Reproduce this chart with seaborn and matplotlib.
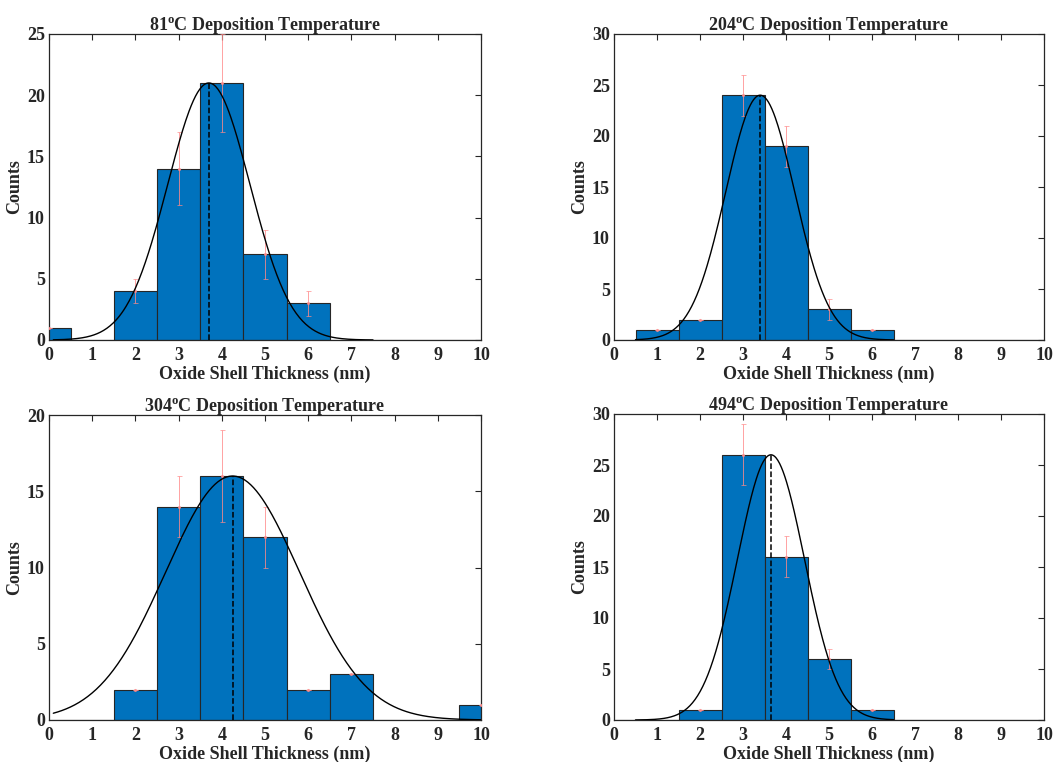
import numpy as np
import pandas as pd
import matplotlib
matplotlib.use("Agg")
import matplotlib.pyplot as plt
import seaborn as sns

sns.set_theme(style="white")
plt.rcParams['font.family'] = ['Liberation Serif', 'DejaVu Serif']
plt.rcParams['font.weight'] = 'bold'
plt.rcParams['mathtext.fontset'] = 'custom'
plt.rcParams['mathtext.rm'] = 'Liberation Serif:bold'
plt.rcParams['mathtext.it'] = 'Liberation Serif:bold'
plt.rcParams['mathtext.bf'] = 'Liberation Serif:bold'

# ---- data ----
temperatures = ["81", "204", "304", "494"]
bin_centers = [0, 1, 2, 3, 4, 5, 6, 7, 8, 9, 10]
counts_81 = [1, 0, 4, 14, 21, 7, 3, 0, 0, 0, 0]
counts_204 = [0, 1, 2, 24, 19, 3, 1, 0, 0, 0, 0]
counts_304 = [0, 0, 2, 14, 16, 12, 2, 3, 0, 0, 1]
counts_494 = [0, 0, 1, 26, 16, 6, 1, 0, 0, 0, 0]
err_81 = [0, 0, 1, 3, 4, 2, 1, 0, 0, 0, 0]
err_204 = [0, 0, 0, 2, 2, 1, 0, 0, 0, 0, 0]
err_304 = [0, 0, 0, 2, 3, 2, 0, 0, 0, 0, 0]
err_494 = [0, 0, 0, 3, 2, 1, 0, 0, 0, 0, 0]
fit_mean = [3.7, 3.4, 4.25, 3.65]
fit_sigma = [0.95, 0.8, 1.55, 0.78]
fit_peak = [21, 24, 16, 26]
fit_range = [(0.1, 7.5), (0.5, 6.5), (0.1, 10.0), (0.5, 6.5)]
y_max = [25, 30, 20, 30]
y_step = [5, 5, 5, 5]

all_counts = [counts_81, counts_204, counts_304, counts_494]
all_err = [err_81, err_204, err_304, err_494]

fig = plt.figure(figsize=(10.63, 7.62), dpi=100)
W, H = 1063, 762
boxes = [(49, 34, 481, 340), (614, 34, 1044, 340), (49, 415, 481, 720), (614, 414, 1044, 720)]

bar_color = '#0072BD'
for i in range(4):
    l, t, r, b = boxes[i]
    ax = fig.add_axes([l / W, 1 - b / H, (r - l) / W, (b - t) / H])
    df = pd.DataFrame({'x': [float(v) for v in bin_centers],
                       'n': [float(v) for v in all_counts[i]],
                       'e': all_err[i]})
    sns.histplot(data=df, x='x', weights='n', binwidth=1.0, binrange=(-0.5, 10.5), ax=ax,
                 color=bar_color, edgecolor='#262626', linewidth=0.8, alpha=1.0)
    nz = df[df['n'] > 0]
    ax.errorbar(nz['x'], nz['n'], yerr=nz['e'], fmt='.', color='#ff8a8a', markersize=2.5,
                elinewidth=0.7, capsize=1.8, capthick=0.6, alpha=0.8, zorder=3)
    xs = np.linspace(fit_range[i][0], fit_range[i][1], 300)
    ys = fit_peak[i] * np.exp(-(xs - fit_mean[i]) ** 2 / (2 * fit_sigma[i] ** 2))
    sns.lineplot(x=xs, y=ys, ax=ax, color='black', linewidth=1.0, zorder=4)
    ax.plot([fit_mean[i], fit_mean[i]], [0, fit_peak[i]], color='black', linestyle='--',
            linewidth=1.1, zorder=4)
    ax.set_xlim(0, 10)
    ax.set_ylim(0, y_max[i])
    ax.set_xticks(range(0, 11))
    ax.set_yticks(np.arange(0, y_max[i] + 1, y_step[i]))
    ax.tick_params(direction='in', top=True, right=True, length=4, width=0.8,
                   labelsize=13, colors='#262626', labelcolor='#262626', pad=3)
    ax.tick_params(axis='x', pad=5)
    for lab in ax.get_xticklabels() + ax.get_yticklabels():
        lab.set_fontweight('bold')
    for s in ax.spines.values():
        s.set_color('#262626')
        s.set_linewidth(0.9)
        s.set_visible(True)
    ax.set_title(temperatures[i] + r'$^{\mathrm{o}}$C Deposition Temperature',
                 fontsize=13, fontweight='bold', pad=3)
    ax.set_xlabel('Oxide Shell Thickness (nm)', fontsize=13, fontweight='bold', labelpad=1)
    ax.set_ylabel('Counts', fontsize=13, fontweight='bold', labelpad=3)

fig.savefig('out.png', dpi=100)
